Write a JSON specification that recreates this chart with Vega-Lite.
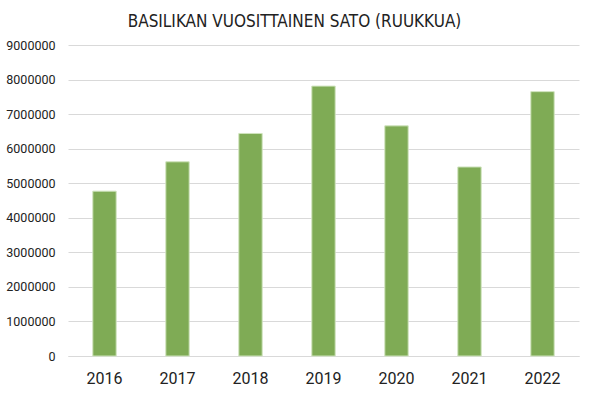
{
  "$schema": "https://vega.github.io/schema/vega-lite/v6.json",
  "width": 511,
  "height": 311,
  "autosize": {"type": "none"},
  "padding": {"left": 68, "top": 45, "right": 11, "bottom": 40},
  "background": "white",
  "title": {
    "text": "BASILIKAN VUOSITTAINEN SATO (RUUKKUA)",
    "font": "DejaVu Sans Condensed",
    "fontSize": 17,
    "fontWeight": "normal",
    "color": "#222222",
    "anchor": "middle",
    "frame": "group",
    "baseline": "alphabetic",
    "offset": 19,
    "dx": -29,
    "dy": 24
  },
  "data": {
    "values": [
      {"year": "2016", "value": 4770000},
      {"year": "2017", "value": 5620000},
      {"year": "2018", "value": 6440000},
      {"year": "2019", "value": 7810000},
      {"year": "2020", "value": 6660000},
      {"year": "2021", "value": 5470000},
      {"year": "2022", "value": 7650000}
    ]
  },
  "config": {
    "view": {"stroke": null}
  },
  "mark": {"type": "bar", "color": "#7fab55", "stroke": "#cfe3bd", "strokeWidth": 1},
  "encoding": {
    "x": {
      "field": "year",
      "type": "ordinal",
      "scale": {"paddingInner": 0.68, "paddingOuter": 0.34},
      "axis": {
        "title": null,
        "labelAngle": 0,
        "labelFont": "Roboto",
        "labelFontSize": 16,
        "labelColor": "#222222",
        "labelPadding": 14,
        "ticks": false,
        "domainColor": "#d9d9d9",
        "domainWidth": 1,
        "grid": false
      }
    },
    "y": {
      "field": "value",
      "type": "quantitative",
      "scale": {"domain": [0, 9000000], "nice": false},
      "axis": {
        "title": null,
        "values": [0, 1000000, 2000000, 3000000, 4000000, 5000000, 6000000, 7000000, 8000000, 9000000],
        "format": "d",
        "labelFont": "Roboto",
        "labelFontSize": 12.5,
        "labelColor": "#222222",
        "labelPadding": 13,
        "ticks": false,
        "domain": false,
        "gridColor": "#d9d9d9",
        "gridWidth": 1
      }
    }
  }
}
